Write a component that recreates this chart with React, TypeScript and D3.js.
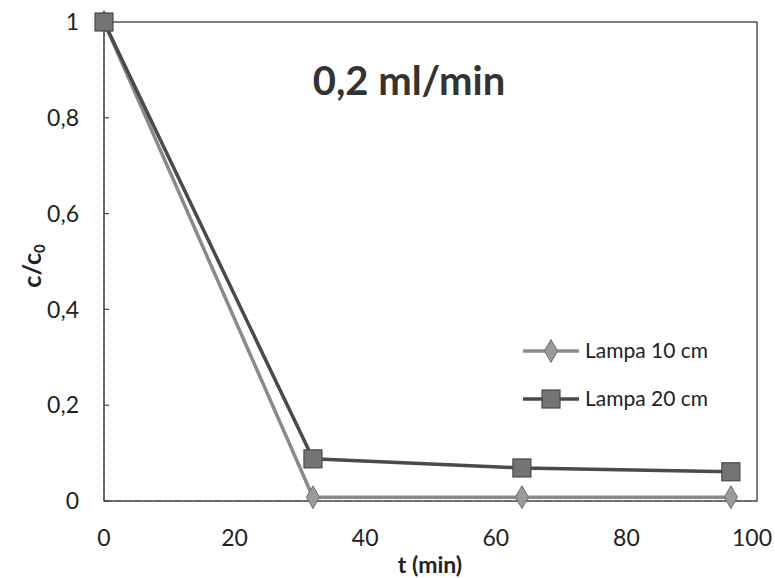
import React from "react";
import * as d3 from "d3";

// values
const times = [0, 32, 64, 96];
const lampa10 = [1, 0.008, 0.008, 0.008];
const lampa20 = [1, 0.088, 0.069, 0.061];
const xTicks = [0, 20, 40, 60, 80, 100];
const yTicks = [0, 0.2, 0.4, 0.6, 0.8, 1];
const seriesNames = ["Lampa 10 cm", "Lampa 20 cm"];
const title = "0,2 ml/min";

const W = 775;
const H = 578;
const margin = { top: 22, right: 18, bottom: 77, left: 104 };
const FONT = "Lato, 'Open Sans', sans-serif";

const fmt = (v: number) => (v === 0 ? "0" : v === 1 ? "1" : String(v).replace(".", ","));

export default function App() {
  const x = d3.scaleLinear().domain([0, 100]).range([margin.left, W - margin.right]);
  const y = d3.scaleLinear().domain([0, 1]).range([H - margin.bottom, margin.top]);

  const line = d3
    .line<number>()
    .x((_, i) => x(times[i]))
    .y((d) => y(d));

  const diamond = d3.symbol().type(d3.symbolDiamond).size(150)()!;
  const square = (cx: number, cy: number, s = 18) => (
    <rect x={cx - s / 2} y={cy - s / 2} width={s} height={s} fill="#747474" stroke="#4a4a4a" strokeWidth={1.2} />
  );

  const legendX = 523;
  const legendY = [351, 399];

  return (
    <svg width={W} height={H} style={{ position: "absolute", left: 0, top: 0, background: "#fff" }} fontFamily={FONT}>
      {/* plot frame */}
      <rect
        x={x(0)}
        y={y(1)}
        width={x(100) - x(0)}
        height={y(0) - y(1)}
        fill="none"
        stroke="#3a3a3a"
        strokeWidth={1.3}
      />
      {/* axes a bit lighter, like the scan */}
      <line x1={x(0)} x2={x(0)} y1={y(0)} y2={y(1)} stroke="#555" strokeWidth={1.2} strokeDasharray="6 2" />
      <line x1={x(0)} x2={x(100)} y1={y(0)} y2={y(0)} stroke="#555" strokeWidth={1.2} strokeDasharray="8 2" />

      {/* y ticks */}
      {yTicks.map((t) => (
        <g key={`y${t}`}>
          <line x1={x(0)} x2={x(0) + 5} y1={y(t)} y2={y(t)} stroke="#444" strokeWidth={1.2} />
          <text x={79} y={y(t)} dy="0.36em" textAnchor="end" fontSize={23} fill="#222">
            {fmt(t)}
          </text>
        </g>
      ))}

      {/* x ticks; the last one is kept inside the page edge */}
      {xTicks.map((t, i) => {
        const last = i === xTicks.length - 1;
        return (
          <text
            key={`x${t}`}
            x={last ? W - 3 : x(t)}
            y={546}
            textAnchor={last ? "end" : "middle"}
            fontSize={23}
            fill="#222"
          >
            {fmt(t)}
          </text>
        );
      })}

      {/* axis titles */}
      <text x={430} y={573} textAnchor="middle" fontSize={23} fontWeight="bold" fill="#222">
        t (min)
      </text>
      <text transform={`translate(41, 266) rotate(-90)`} textAnchor="middle" fontSize={25} fontWeight="bold" fill="#222">
        c/c<tspan fontSize={15} dy={4}>0</tspan>
      </text>

      {/* chart title */}
      <text x={409} y={95} textAnchor="middle" fontSize={40} fontWeight="bold" fill="#333">
        {title}
      </text>

      {/* series */}
      <path d={line(lampa10)!} fill="none" stroke="#8a8a8a" strokeWidth={3.5} />
      <path d={line(lampa20)!} fill="none" stroke="#4a4a4a" strokeWidth={3.5} />
      {lampa10.map((v, i) => (
        <path
          key={`d${i}`}
          d={diamond}
          transform={`translate(${x(times[i])},${y(v)})`}
          fill="#9a9a9a"
          stroke="#6e6e6e"
          strokeWidth={1}
        />
      ))}
      {lampa20.map((v, i) => (
        <g key={`s${i}`}>{square(x(times[i]), y(v))}</g>
      ))}

      {/* legend */}
      {seriesNames.map((name, i) => (
        <g key={name} transform={`translate(${legendX},${legendY[i]})`}>
          <line x1={0} x2={56} y1={0} y2={0} stroke={i === 0 ? "#8a8a8a" : "#4a4a4a"} strokeWidth={3.5} />
          {i === 0 ? (
            <path d={diamond} transform="translate(28,0)" fill="#9a9a9a" stroke="#6e6e6e" strokeWidth={1} />
          ) : (
            square(28, 0)
          )}
          <text x={62} y={0} dy="0.35em" fontSize={21} fill="#222">
            {name}
          </text>
        </g>
      ))}
    </svg>
  );
}
